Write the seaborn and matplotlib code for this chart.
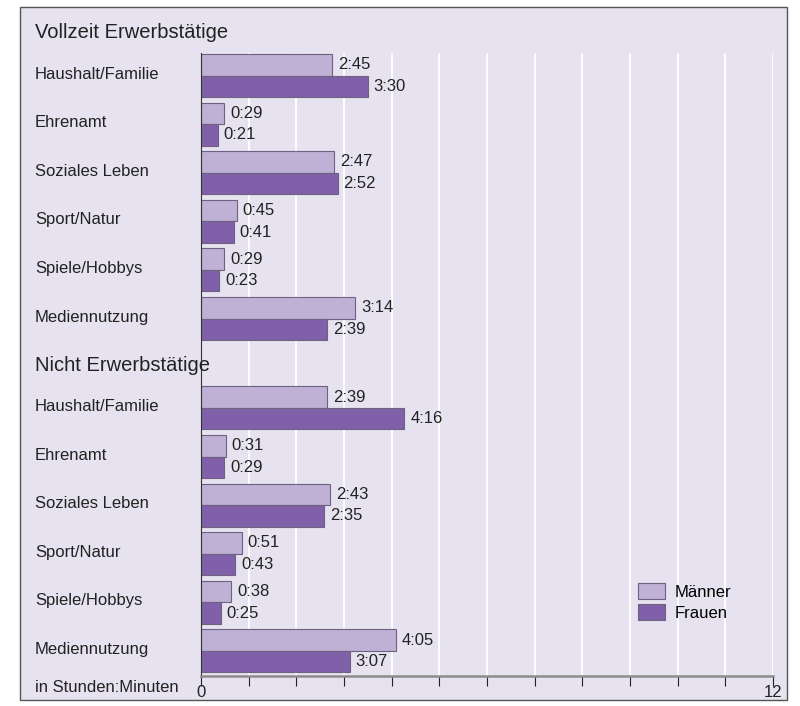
import matplotlib
matplotlib.use("Agg")
import matplotlib.pyplot as plt
import matplotlib.transforms as mtransforms
from matplotlib.patches import Rectangle
import seaborn as sns
import pandas as pd
import numpy as np

plt.rcParams['font.family'] = ['Liberation Sans', 'DejaVu Sans']

# data (hours:minutes)
activities = ["Haushalt/Familie", "Ehrenamt", "Soziales Leben", "Sport/Natur",
              "Spiele/Hobbys", "Mediennutzung"]
groups = ["Vollzeit Erwerbstätige", "Nicht Erwerbstätige"]
vollzeit_maenner = ["2:45", "0:29", "2:47", "0:45", "0:29", "3:14"]
vollzeit_frauen = ["3:30", "0:21", "2:52", "0:41", "0:23", "2:39"]
nicht_maenner = ["2:39", "0:31", "2:43", "0:51", "0:38", "4:05"]
nicht_frauen = ["4:16", "0:29", "2:35", "0:43", "0:25", "3:07"]
sexes = ["Männer", "Frauen"]

def to_hours(s):
    h, m = s.split(":")
    return int(h) + int(m) / 60

# layout: row index per group, second group shifted down
group_offset = [0.0, 6.84]
rows = []
for gi, (m_vals, f_vals) in enumerate([(vollzeit_maenner, vollzeit_frauen),
                                        (nicht_maenner, nicht_frauen)]):
    for i, act in enumerate(activities):
        pos = i + group_offset[gi]
        rows.append(dict(pos=pos, act=act, sex="Männer", label=m_vals[i], hours=to_hours(m_vals[i])))
        rows.append(dict(pos=pos, act=act, sex="Frauen", label=f_vals[i], hours=to_hours(f_vals[i])))
df = pd.DataFrame(rows)

bg = "#e6e2ef"
light = "#bfb0d6"
dark = "#8060a9"

fig = plt.figure(figsize=(8, 7.06), dpi=100)
fig.patches.append(Rectangle((20 / 800, 1 - 700 / 706), 767 / 800, 693 / 706,
                             transform=fig.transFigure, facecolor=bg,
                             edgecolor="#555555", linewidth=1, zorder=-5))
ax = fig.add_axes([201 / 800, 30 / 706, 572 / 800, 623 / 706])
ax.set_facecolor("none")

sns.barplot(data=df, x="hours", y="pos", hue="sex", hue_order=sexes,
            palette=[light, dark], saturation=1, orient="h", native_scale=True,
            width=0.885, edgecolor="#6e6280", linewidth=0.8, ax=ax)

ax.set_xlim(0, 12)
ax.set_ylim(12.356, -0.463)
ax.set_xlabel("")
ax.set_ylabel("")
ax.set_yticks([])
ax.set_xticks(range(13))
ax.set_xticklabels(["0"] + [""] * 11 + ["12"], fontsize=12, color="#222222")
ax.tick_params(axis="x", length=7.2, width=0.8, color="#222222", pad=-1)
ax.set_axisbelow(True)
ax.xaxis.grid(True, color="white", linewidth=1.3)
for s in ["top", "right"]:
    ax.spines[s].set_visible(False)
ax.spines["bottom"].set_color("#8c8c8c")
ax.spines["bottom"].set_linewidth(1.8)
ax.spines["left"].set_color("#333333")
ax.spines["left"].set_linewidth(0.8)

# value labels
w = 0.885 / 2
for _, r in df.iterrows():
    y = r["pos"] - w / 2 if r["sex"] == "Männer" else r["pos"] + w / 2
    ax.annotate(r["label"], (r["hours"], y), xytext=(4.3, 0), textcoords="offset points",
                va="center", ha="left", fontsize=12, color="#222222")

# category and group labels left of the axes
trans = mtransforms.blended_transform_factory(fig.transFigure, ax.transData)
for gi, g in enumerate(groups):
    ax.text(35 / 800, group_offset[gi] - 0.88, g, transform=trans, fontsize=14.5,
            va="center", ha="left", color="#222222")
    for i, act in enumerate(activities):
        ax.text(35 / 800, i + group_offset[gi] - 0.03, act, transform=trans, fontsize=12,
                va="center", ha="left", color="#222222")
fig.text(35 / 800, 1 - 688 / 706, "in Stunden:Minuten", fontsize=12,
         va="center", ha="left", color="#222222")

sns.move_legend(ax, loc="upper left", bbox_to_anchor=(638 / 800, 1 - 583 / 706),
                bbox_transform=fig.transFigure, frameon=False, title=None,
                fontsize=12, handlelength=1.6, handleheight=1.1, handletextpad=0.6,
                labelspacing=0.25, borderpad=0, borderaxespad=0)

fig.savefig("out.png", dpi=100)
